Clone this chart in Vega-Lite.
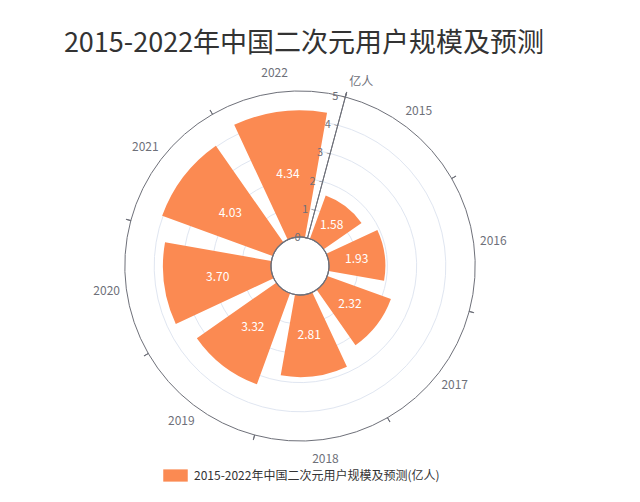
{
  "$schema": "https://vega.github.io/schema/vega-lite/v6.json",
  "autosize": "none",
  "padding": {"top": 45, "left": 0, "right": 40, "bottom": 15},
  "width": 600,
  "height": 442,
  "background": "white",
  "config": {
    "font": "Noto Sans CJK SC",
    "view": {"stroke": null}
  },
  "title": {
    "text": "2015-2022年中国二次元用户规模及预测",
    "fontSize": 27,
    "fontWeight": "normal",
    "color": "#333333",
    "anchor": "middle",
    "dx": 4,
    "offset": -13
  },
  "datasets": {
    "users": [
      {"year": 2015, "value": 1.58},
      {"year": 2016, "value": 1.93},
      {"year": 2017, "value": 2.32},
      {"year": 2018, "value": 2.81},
      {"year": 2019, "value": 3.32},
      {"year": 2020, "value": 3.70},
      {"year": 2021, "value": 4.03},
      {"year": 2022, "value": 4.34}
    ],
    "grid": [{"v": 1}, {"v": 2}, {"v": 3}, {"v": 4}],
    "ticks": [{"v": 0}, {"v": 1}, {"v": 2}, {"v": 3}, {"v": 4}, {"v": 5}]
  },
  "resolve": {"scale": {"radius": "independent"}},
  "layer": [
    {
      "data": {"name": "grid"},
      "mark": {"type": "arc", "fill": null, "stroke": "#E0E6F1", "strokeWidth": 1},
      "encoding": {
        "theta": {"datum": 2014.5, "type": "quantitative", "scale": {"domain": [2014.5, 2022.5], "range": [0.261799, 6.544985]}},
        "theta2": {"datum": 2022.5},
        "radius": {"field": "v", "type": "quantitative", "stack": null, "scale": {"type": "linear", "domain": [0, 5], "range": [29, 175], "zero": false}}
      }
    },
    {
      "data": {"name": "users"},
      "mark": {"type": "arc", "thetaOffset": -0.3054, "theta2Offset": 0.3054},
      "encoding": {
        "theta": {"field": "year", "type": "quantitative", "stack": null, "scale": {"domain": [2014.5, 2022.5], "range": [0.261799, 6.544985]}},
        "theta2": {"field": "year"},
        "radius": {"field": "value", "type": "quantitative", "stack": null, "scale": {"type": "linear", "domain": [0, 5], "range": [29, 175], "zero": false}},
        "radius2": {"datum": 0},
        "color": {
          "datum": "2015-2022年中国二次元用户规模及预测(亿人)",
          "type": "nominal",
          "scale": {"range": ["#FB8A52"]},
          "legend": {
            "title": null,
            "orient": "none",
            "legendX": 163,
            "legendY": 418,
            "symbolType": "M-1,-0.5H1V0.5H-1Z",
            "symbolSize": 600,
            "symbolStrokeWidth": 0,
            "labelFontSize": 12,
            "labelColor": "#333333",
            "labelOffset": 6,
            "labelLimit": 400
          }
        }
      }
    },
    {
      "data": {"values": [{}]},
      "mark": {"type": "arc", "fill": null, "stroke": "#6E7079", "strokeWidth": 1.2},
      "encoding": {
        "theta": {"datum": 2014.5, "type": "quantitative", "scale": {"domain": [2014.5, 2022.5], "range": [0.261799, 6.544985]}},
        "theta2": {"datum": 2022.5},
        "radius": {"datum": 0, "type": "quantitative", "scale": {"type": "linear", "domain": [0, 5], "range": [29, 175], "zero": false}}
      }
    },
    {
      "data": {"values": [{}]},
      "mark": {"type": "arc", "fill": null, "stroke": "#6E7079", "strokeWidth": 1},
      "encoding": {
        "theta": {"datum": 2014.5, "type": "quantitative", "scale": {"domain": [2014.5, 2022.5], "range": [0.261799, 6.544985]}},
        "theta2": {"datum": 2022.5},
        "radius": {"datum": 5, "type": "quantitative", "scale": {"type": "linear", "domain": [0, 5], "range": [29, 175], "zero": false}}
      }
    },
    {
      "data": {"name": "users"},
      "mark": {"type": "arc", "fill": null, "stroke": "#6E7079", "strokeWidth": 1, "thetaOffset": -0.3927, "theta2Offset": -0.3917},
      "encoding": {
        "theta": {"field": "year", "type": "quantitative", "stack": null, "scale": {"domain": [2014.5, 2022.5], "range": [0.261799, 6.544985]}},
        "theta2": {"field": "year"},
        "radius": {"datum": 5, "type": "quantitative", "scale": {"type": "linear", "domain": [0, 5], "range": [29, 180], "zero": false}},
        "radius2": {"datum": 4.83}
      }
    },
    {
      "data": {"values": [{}]},
      "mark": {"type": "arc", "fill": null, "stroke": "#6E7079", "strokeWidth": 1, "theta2Offset": 0.0005},
      "encoding": {
        "theta": {"datum": 2014.5, "type": "quantitative", "scale": {"domain": [2014.5, 2022.5], "range": [0.261799, 6.544985]}},
        "theta2": {"datum": 2014.5},
        "radius": {"datum": 5, "type": "quantitative", "scale": {"type": "linear", "domain": [0, 5], "range": [29, 180], "zero": false}},
        "radius2": {"datum": 0}
      }
    },
    {
      "data": {"name": "ticks"},
      "mark": {"type": "text", "text": "–", "align": "right", "baseline": "middle", "angle": 15, "dx": 1, "fontSize": 9, "color": "#6E7079"},
      "encoding": {
        "theta": {"datum": 2014.5, "type": "quantitative", "scale": {"domain": [2014.5, 2022.5], "range": [0.261799, 6.544985]}},
        "radius": {"field": "v", "type": "quantitative", "stack": null, "scale": {"type": "linear", "domain": [0, 5], "range": [29, 175], "zero": false}}
      }
    },
    {
      "data": {"name": "ticks"},
      "mark": {"type": "text", "align": "right", "baseline": "middle", "dx": -7, "fontSize": 11, "color": "#6E7079"},
      "encoding": {
        "theta": {"datum": 2014.5, "type": "quantitative", "scale": {"domain": [2014.5, 2022.5], "range": [0.261799, 6.544985]}},
        "radius": {"field": "v", "type": "quantitative", "stack": null, "scale": {"type": "linear", "domain": [0, 5], "range": [29, 175], "zero": false}},
        "text": {"field": "v", "type": "quantitative"}
      }
    },
    {
      "data": {"values": [{"unit": "亿人"}]},
      "mark": {"type": "text", "align": "left", "baseline": "middle", "dx": 4, "dy": -15, "fontSize": 12, "color": "#6E7079"},
      "encoding": {
        "theta": {"datum": 2014.5, "type": "quantitative", "scale": {"domain": [2014.5, 2022.5], "range": [0.261799, 6.544985]}},
        "radius": {"datum": 5, "type": "quantitative", "scale": {"type": "linear", "domain": [0, 5], "range": [29, 175], "zero": false}},
        "text": {"field": "unit"}
      }
    },
    {
      "data": {"name": "users"},
      "mark": {"type": "text", "align": "center", "baseline": "middle", "fontSize": 12, "color": "#6E7079"},
      "encoding": {
        "theta": {"field": "year", "type": "quantitative", "stack": null, "scale": {"domain": [2014.5, 2022.5], "range": [0.261799, 6.544985]}},
        "radius": {"datum": 5, "type": "quantitative", "scale": {"type": "linear", "domain": [0, 5], "range": [29, 195], "zero": false}},
        "text": {"field": "year", "type": "nominal"}
      }
    },
    {
      "data": {"name": "users"},
      "mark": {"type": "text", "align": "center", "baseline": "middle", "fontSize": 12, "color": "white"},
      "encoding": {
        "theta": {"field": "year", "type": "quantitative", "stack": null, "scale": {"domain": [2014.5, 2022.5], "range": [0.261799, 6.544985]}},
        "radius": {"field": "value", "type": "quantitative", "stack": null, "scale": {"type": "linear", "domain": [0, 10], "range": [29, 175], "zero": false}},
        "text": {"field": "value", "type": "quantitative", "format": ".2f"}
      }
    }
  ]
}
